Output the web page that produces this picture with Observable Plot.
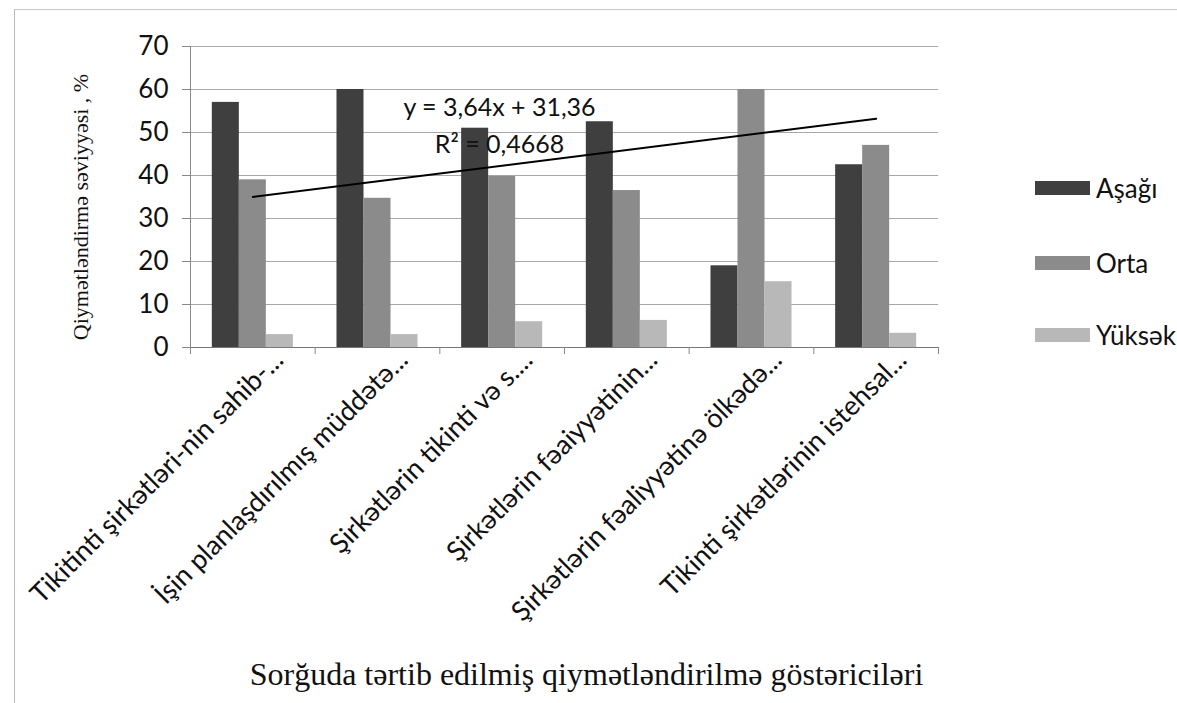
<!DOCTYPE html>
<html><head><meta charset="utf-8">
<script src="https://cdn.jsdelivr.net/npm/d3@7"></script>
<script src="https://cdn.jsdelivr.net/npm/@observablehq/plot@0.6"></script>
<style>
body{margin:0;background:#fff;}
#wrap{position:relative;width:1177px;height:703px;overflow:hidden;background:#fff;}
#frame{position:absolute;left:14px;top:9px;width:1200px;height:720px;border-left:1px solid #b8b8b8;border-top:1px solid #c8c8c8;pointer-events:none;}
#chart{position:absolute;left:0;top:0;}
#legend{position:absolute;left:0;top:0;font-family:Lato,"Open Sans",sans-serif;font-size:26px;color:#111;}
.item{position:absolute;left:1035px;display:flex;align-items:center;white-space:nowrap;height:30px;}
.sw{width:55px;height:14px;margin-right:6px;}
</style></head><body>
<div id="wrap"><div id="frame"></div><div id="chart"></div><div id="legend"></div></div>
<script>
const categories = [
  "Tikitinti şirkətləri-nin sahib-...",
  "İşin planlaşdırılmış müddətə...",
  "Şirkətlərin tikinti və s....",
  "Şirkətlərin fəaiyyətinin...",
  "Şirkətlərin fəaliyyətinə ölkədə...",
  "Tikinti şirkətlərinin istehsal..."
];
const seriesNames = ["Aşağı", "Orta", "Yüksək"];
const asagi  = [57, 60, 51, 52.5, 19, 42.5];
const orta   = [39, 34.7, 39.8, 36.5, 60, 47];
const yuksek = [3, 3, 6, 6.3, 15.3, 3.3];
const yTicks = [0, 10, 20, 30, 40, 50, 60, 70];
const trendX = [1, 6];
const trendY = [35.0, 53.2];
const equationText = "y = 3,64x + 31,36";
const r2Text = "R² = 0,4668";
const yTitle = "Qiymətləndirmə səviyyəsi , %";
const xTitle = "Sorğuda tərtib edilmiş qiymətləndirilmə göstəriciləri";
const seriesColors = ["#3f3f3f", "#8b8b8b", "#b8b8b8"];

const seriesValues = [asagi, orta, yuksek];
const groupWidth = 0.65;
const barW = groupWidth / seriesNames.length;
const rows = [];
categories.forEach((c, i) => {
  seriesNames.forEach((s, j) => {
    const x1 = (i + 1) - groupWidth / 2 + j * barW;
    rows.push({series: s, x1, x2: x1 + barW, base: 0, value: seriesValues[j][i]});
  });
});
const centers = categories.map((c, i) => i + 1);
const bounds = d3.range(categories.length + 1).map(i => i + 0.5);
const trend = trendX.map((x, i) => ({x, y: trendY[i]}));

const plot = Plot.plot({
  width: 1177, height: 703,
  marginLeft: 190, marginRight: 239, marginTop: 46, marginBottom: 356,
  x: {type: "linear", domain: [0.5, 6.5]},
  y: {domain: [0, 70]},
  color: {domain: seriesNames, range: seriesColors},
  style: {background: "transparent", color: "#111", overflow: "visible"},
  marks: [
    Plot.ruleY(yTicks, {stroke: "#a8a8a8", strokeWidth: 1}),
    Plot.axisY(yTicks, {tickSize: 8, tickPadding: 14, fontSize: 26, fontFamily: "Lato", label: null, stroke: "#888"}),
    Plot.rect(rows, {x1: "x1", x2: "x2", y1: "base", y2: "value", fill: "series"}),
    Plot.ruleX([0.5], {stroke: "#888"}),
    Plot.ruleY([0], {stroke: "#777"}),
    Plot.axisX(bounds, {tickSize: 7, tickFormat: () => "", stroke: "#888", label: null}),
    Plot.axisX(centers, {tickSize: 0, tickRotate: -45, tickPadding: 8, dx: 26, tickFormat: d => categories[d - 1], fontSize: 27, fontFamily: "Lato", label: null}),
    Plot.line(trend, {x: "x", y: "y", stroke: "#000", strokeWidth: 2}),
    Plot.text([equationText], {text: d => d, frameAnchor: "top", dx: -65, dy: 52, fontSize: 25, fontFamily: "Lato", fill: "#111"}),
    Plot.text([r2Text], {text: d => d, frameAnchor: "top", dx: -65, dy: 89, fontSize: 25, fontFamily: "Lato", fill: "#111"}),
    Plot.text([yTitle], {text: d => d, frameAnchor: "left", textAnchor: "middle", rotate: -90, dx: -110, dy: 10, fontSize: 22, fontFamily: "Liberation Serif", fill: "#111"}),
    Plot.text([xTitle], {text: d => d, frameAnchor: "bottom", dx: 22, dy: 337, fontSize: 32, fontFamily: "Liberation Serif", fill: "#111"})
  ]
});
document.getElementById("chart").appendChild(plot);

const legendTops = [173, 248, 320];
const legend = document.getElementById("legend");
seriesNames.forEach((s, i) => {
  const item = document.createElement("div");
  item.className = "item";
  item.style.top = legendTops[i] + "px";
  const sw = document.createElement("span");
  sw.className = "sw";
  sw.style.background = seriesColors[i];
  const t = document.createElement("span");
  t.textContent = s;
  item.appendChild(sw); item.appendChild(t);
  legend.appendChild(item);
});
</script>
</body></html>
